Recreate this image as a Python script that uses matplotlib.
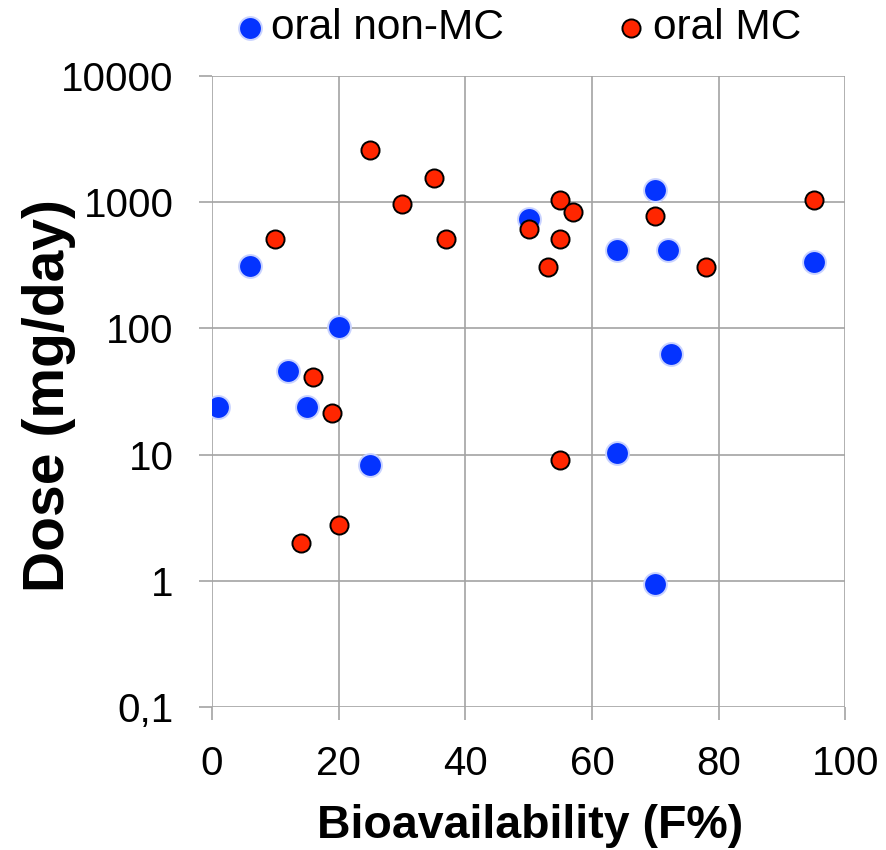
import matplotlib
matplotlib.use("Agg")
import matplotlib.pyplot as plt

plt.rcParams['font.family'] = ['Liberation Sans', 'DejaVu Sans']

# oral non-MC
f_non_mc = [1, 6, 12, 15, 20, 25, 50, 64, 64, 70, 70, 72, 72.5, 95]
dose_non_mc = [24, 310, 46, 24, 102, 8.2, 730, 420, 10.3, 1250, 0.95, 420, 62, 335]

# oral MC
f_mc = [25, 35, 30, 37, 10, 16, 19, 20, 14, 55, 57, 50, 55, 53, 70, 78, 95, 55]
dose_mc = [2600, 1550, 960, 510, 510, 41, 21.5, 2.75, 2.0, 1030, 830, 610, 510, 305, 780, 305, 1030, 9.1]

x_ticks = [0, 20, 40, 60, 80, 100]
y_ticks = [0.1, 1, 10, 100, 1000, 10000]
y_tick_labels = ['0,1', '1', '10', '100', '1000', '10000']

grid_col = '#A3A3A3'

fig = plt.figure(figsize=(8.87, 8.5), dpi=100)
ax = fig.add_axes([0.239, 0.168, 0.714, 0.743])

ax.scatter(f_non_mc, dose_non_mc, s=270, color='#0433FF', edgecolors='#C8D2FF',
           linewidths=1.4, zorder=3, label='oral non-MC')
ax.scatter(f_mc, dose_mc, s=170, color='#FF2600', edgecolors='black',
           linewidths=1.4, zorder=4, label='oral MC')

ax.set_yscale('log')
ax.set_xlim(0, 100)
ax.set_ylim(0.1, 10000)
ax.set_xticks(x_ticks)
ax.set_yticks(y_ticks)
ax.set_yticklabels(y_tick_labels)
ax.minorticks_off()

for sp in ax.spines.values():
    sp.set_visible(False)
ax.grid(True, color=grid_col, linewidth=1.2, zorder=0)
ax.set_axisbelow(True)
ax.tick_params(axis='both', direction='out', length=9.5, width=1.2, color=grid_col,
               labelsize=29, labelcolor='black')
ax.tick_params(axis='x', pad=18)
ax.tick_params(axis='y', pad=18)

fig.text(0.598, 1 - 838 / 850, 'Bioavailability (F%)', fontsize=33.5, fontweight='bold',
         ha='center', va='baseline')
fig.text(64 / 887, 1 - 396 / 850, 'Dose (mg/day)', fontsize=41, fontweight='bold',
         rotation=90, rotation_mode='anchor', ha='center', va='baseline')

leg = ax.legend(loc='center', bbox_to_anchor=(0.5805, 0.967), bbox_transform=fig.transFigure,
                ncol=2, frameon=False, fontsize=30.5, handletextpad=0.0,
                columnspacing=2.5, handlelength=1.0, borderpad=0, scatterpoints=1)

fig.savefig('out.png', dpi=100)
